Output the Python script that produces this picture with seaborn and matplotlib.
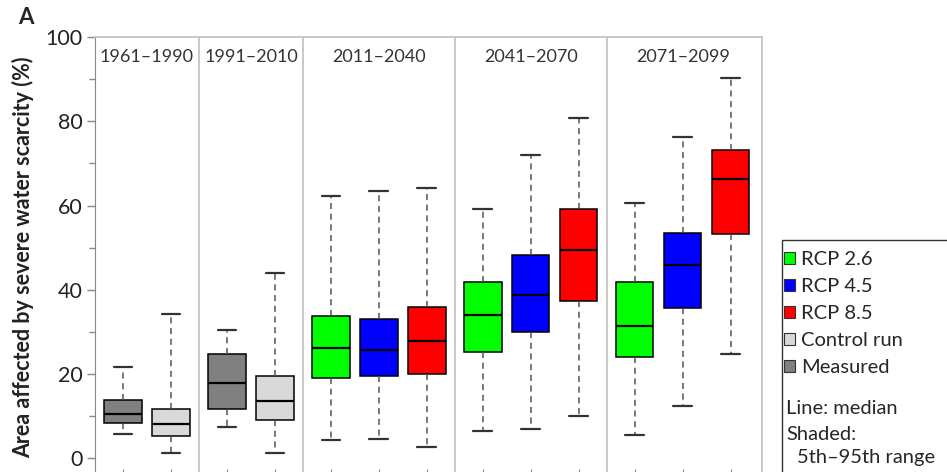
import pandas as pd
import seaborn as sns
import matplotlib.pyplot as plt
from matplotlib.patches import Patch, Rectangle

# periods and the series shown in each of them
periods = ['1961–1990', '1991–2010', '2011–2040', '2041–2070', '2071–2099']
period_series = [
    ['Measured', 'Control run'],
    ['Measured', 'Control run'],
    ['RCP 2.6', 'RCP 4.5', 'RCP 8.5'],
    ['RCP 2.6', 'RCP 4.5', 'RCP 8.5'],
    ['RCP 2.6', 'RCP 4.5', 'RCP 8.5'],
]

# box statistics, in the same order as the boxes from left to right
p5 = [5.7, 1.2, 7.5, 1.4, 4.3, 4.6, 2.8, 6.5, 7.0, 10.0, 5.5, 12.5, 24.9]
q1 = [8.5, 5.3, 11.7, 9.1, 19.0, 19.5, 20.1, 25.3, 29.9, 37.3, 24.0, 35.7, 53.2]
median = [10.5, 8.2, 17.8, 13.7, 26.1, 25.7, 27.8, 34.1, 38.9, 49.4, 31.4, 45.9, 66.2]
q3 = [13.8, 11.7, 24.8, 19.5, 33.8, 33.1, 36.0, 41.8, 48.3, 59.1, 41.9, 53.5, 73.3]
p95 = [21.7, 34.2, 30.4, 44.0, 62.3, 63.5, 64.2, 59.1, 72.1, 80.8, 60.5, 76.2, 90.3]

colors = {
    'RCP 2.6': '#00ff00',
    'RCP 4.5': '#0000ff',
    'RCP 8.5': '#ff0000',
    'Control run': '#d9d9d9',
    'Measured': '#808080',
}
legend_order = ['RCP 2.6', 'RCP 4.5', 'RCP 8.5', 'Control run', 'Measured']

# positions: one slot per box, small padding on each side of a period
pad = 1 / 12
positions, series_names, bounds, centers = [], [], [], []
start = 0.0
for names in period_series:
    for j, s in enumerate(names):
        positions.append(start + pad + 0.5 + j)
        series_names.append(s)
    end = start + len(names) + 2 * pad
    centers.append((start + end) / 2)
    bounds.append(end)
    start = end

# five values per box so that quartiles/whiskers land on the stats above
rows = []
for i in range(len(positions)):
    for v in (p5[i], q1[i], median[i], q3[i], p95[i]):
        rows.append({'pos': positions[i], 'series': series_names[i], 'value': v})
df = pd.DataFrame(rows)

sns.set_style('ticks')
plt.rcParams['font.family'] = ['Lato', 'DejaVu Sans']

fig = plt.figure(figsize=(9.47, 4.72), dpi=100)
ax = fig.add_axes([95 / 947, 1 - 477 / 472, 667 / 947, 440 / 472])

sns.boxplot(data=df, x='pos', y='value', hue='series', palette=colors,
            native_scale=True, dodge=False, width=0.78, whis=(0, 100),
            saturation=1, linecolor='black', linewidth=1.1, legend=False,
            showfliers=False, ax=ax,
            whiskerprops=dict(linestyle=(0, (4, 3)), color='#555555', linewidth=1.1),
            capprops=dict(color='#333333', linewidth=1.6),
            medianprops=dict(color='black', linewidth=1.6))

ax.set_xlim(0, bounds[-1] + 0.07)
ax.set_ylim(-4.4, 100)
for b in bounds[:-1]:
    ax.axvline(b, color='#c4c4c4', lw=1.3, zorder=0)
for c, p in zip(centers, periods):
    ax.text(c, 95.3, p, ha='center', va='center', fontsize=13, color='#333333')

ax.set_yticks(range(0, 101, 20))
ax.set_yticks(range(10, 100, 20), minor=True)
ax.set_xticks(positions)
ax.set_xticklabels([])
ax.set_xlabel('')
ax.tick_params(axis='y', which='major', labelsize=15.5, length=6, width=1,
               color='#888888', labelcolor='#222222', pad=3)
ax.tick_params(axis='y', which='minor', length=4, width=1, color='#888888')
ax.tick_params(axis='x', direction='in', length=6, color='#888888')
ax.set_ylabel('Area affected by severe water scarcity (%)', fontsize=15.5,
              fontweight='bold', color='#222222', labelpad=8)
for side in ['top', 'right', 'bottom']:
    ax.spines[side].set_color('#c4c4c4')
    ax.spines[side].set_linewidth(1.3)
ax.spines['left'].set_color('#888888')

# legend
handles = [Patch(facecolor=colors[s], edgecolor='#333333', linewidth=0.8)
           for s in legend_order]
fig.legend(handles, legend_order, loc='upper left',
           bbox_to_anchor=(784 / 947, 1 - 251 / 472), frameon=False,
           fontsize=14.5, handlelength=0.55, handleheight=0.55,
           handletextpad=0.3, labelspacing=0.5, borderaxespad=0,
           borderpad=0)
fig.patches.append(Rectangle((782 / 947, -0.05), 0.3, 1 - 240 / 472 + 0.05,
                             transform=fig.transFigure, fill=False,
                             edgecolor='#333333', linewidth=1))
fig.text(786 / 947, 1 - 409 / 472, 'Line: median', fontsize=14.5, va='center')
fig.text(786 / 947, 1 - 435 / 472, 'Shaded:', fontsize=14.5, va='center')
fig.text(797 / 947, 1 - 458 / 472, '5th–95th range', fontsize=14.5, va='center')

fig.text(18 / 947, 1 - 17 / 472, 'A', fontsize=16, fontweight='bold', va='center')

fig.savefig('out.png', dpi=100)
